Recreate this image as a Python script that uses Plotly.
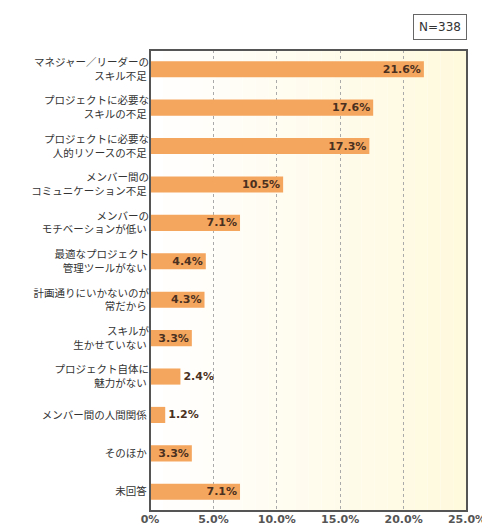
import plotly.graph_objects as go

categories = [
    "マネジャー／リーダーの<br>スキル不足",
    "プロジェクトに必要な<br>スキルの不足",
    "プロジェクトに必要な<br>人的リソースの不足",
    "メンバー間の<br>コミュニケーション不足",
    "メンバーの<br>モチベーションが低い",
    "最適なプロジェクト<br>管理ツールがない",
    "計画通りにいかないのが<br>常だから",
    "スキルが<br>生かせていない",
    "プロジェクト自体に<br>魅力がない",
    "メンバー間の人間関係",
    "そのほか",
    "未回答",
]
values = [21.6, 17.6, 17.3, 10.5, 7.1, 4.4, 4.3, 3.3, 2.4, 1.2, 3.3, 7.1]
tick_vals = [0, 5, 10, 15, 20, 25]
tick_text = ["<b>0%</b>", "<b>5.0%</b>", "<b>10.0%</b>", "<b>15.0%</b>", "<b>20.0%</b>", "<b>25.0%</b>"]

font = "Noto Sans CJK JP"
positions = ["inside" if v >= 3 else "outside" for v in values]
label_font = dict(family="DejaVu Sans", size=11, color="#4a3020")

fig = go.Figure(go.Bar(
    x=values, y=categories, orientation="h",
    marker=dict(color="#f5a65e", line=dict(width=0)),
    width=0.42,
    text=[f"<b>{v:.1f}%</b>" for v in values],
    textposition=positions, insidetextanchor="end",
    textfont=label_font, insidetextfont=label_font, outsidetextfont=label_font,
    constraintext="none",
    cliponaxis=False,
))

# soft white-to-cream gradient background
shapes = []
n = 24
for i in range(n):
    t = i / (n - 1)
    r, g, b = 255, int(255 - 5 * t), int(255 - 33 * t)
    shapes.append(dict(type="rect", xref="x domain", yref="y domain",
                       x0=i / n, x1=(i + 1) / n, y0=0, y1=1,
                       fillcolor=f"rgb({r},{g},{b})", line=dict(width=0), layer="below"))
shapes.append(dict(type="rect", xref="x domain", yref="y domain", x0=0, x1=1, y0=0, y1=1,
                   line=dict(color="#555555", width=2)))

fig.update_layout(
    width=490, height=530,
    margin=dict(l=142, r=30, t=42, b=23),
    paper_bgcolor="white", plot_bgcolor="white",
    shapes=shapes,
    showlegend=False,
    font=dict(family=font, size=11, color="#333333"),
    xaxis=dict(range=[0, 25], tickvals=tick_vals, ticktext=tick_text,
               showgrid=True, gridcolor="#aaaaaa", griddash="dot", gridwidth=1,
               zeroline=False, ticks="", layer="above traces",
               tickfont=dict(family="DejaVu Sans", size=11, color="#555555")),
    yaxis=dict(autorange="reversed", showgrid=False, ticks="", ticksuffix=" ",
               tickfont=dict(family=font, size=10.5, color="#333333")),
    annotations=[dict(text="N=338", xref="paper", yref="paper", x=1.0, y=1.0,
                      xanchor="right", yanchor="bottom", yshift=10, showarrow=False,
                      font=dict(family="DejaVu Sans", size=12, color="#333333"),
                      bordercolor="#666666", borderwidth=1, borderpad=5, bgcolor="white")],
)

fig.write_html("out.html")
